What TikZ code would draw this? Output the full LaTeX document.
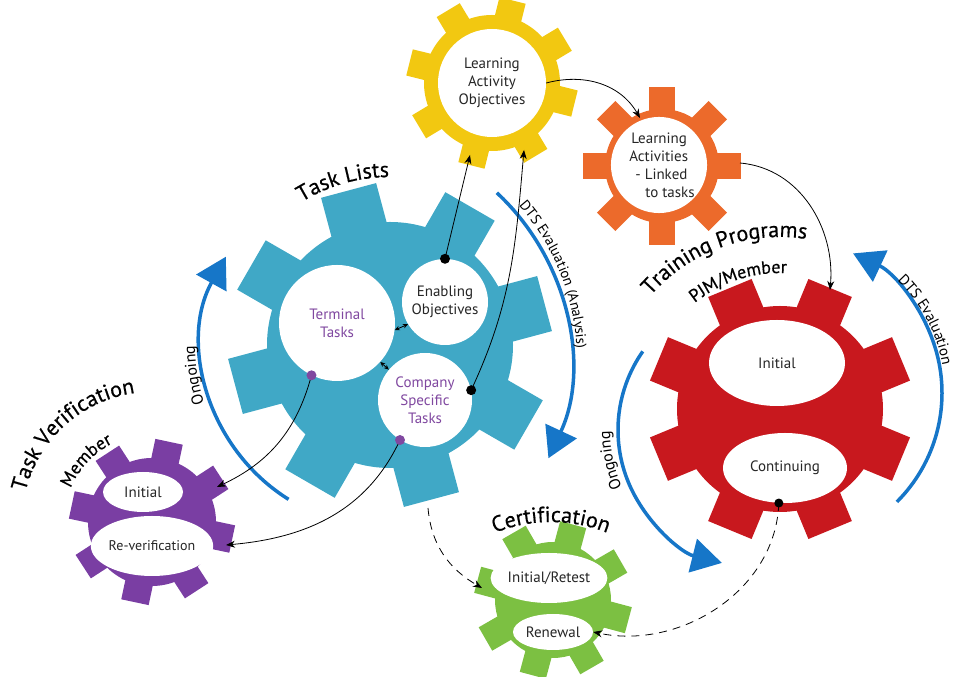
\documentclass[tikz,border=0pt]{standalone}
\usepackage{fontspec}
\setmainfont{PT Sans}
\newfontfamily\headfamily[FakeBold=0.5]{PT Sans}
\usepackage{tikz}
\usetikzlibrary{shapes.geometric, arrows.meta, decorations.text}

\definecolor{gearblue}{RGB}{64,168,198}
\definecolor{gearyellow}{RGB}{242,200,17}
\definecolor{gearorange}{RGB}{236,106,43}
\definecolor{gearred}{RGB}{200,24,30}
\definecolor{gearpurple}{RGB}{122,62,163}
\definecolor{geargreen}{RGB}{124,192,66}
\definecolor{cyclearrow}{RGB}{22,118,200}
\definecolor{taskpurple}{RGB}{128,72,160}

\newcommand{\titlefont}{\headfamily\fontsize{22}{25}\selectfont}
\newcommand{\subtitlefont}{\headfamily\fontsize{18}{21}\selectfont}
\newcommand{\cyclefont}{\fontsize{16}{19}\selectfont}
\newcommand{\dtsfont}{\fontsize{14.5}{17}\selectfont}

% centre, body radius, tip radius, tooth width, first tooth angle, colour
\newcommand{\drawgear}[6]{
    \fill [#6] #1 circle (#2);
    \foreach \k in {0, ..., 7}
    {
        \fill [#6, shift = {#1}, rotate = #5 + 45*\k] (#2 - 6, -#4/2) rectangle (#3, #4/2);
    }
}

\begin{document}
\begin{tikzpicture}[x = 1pt, y = 1pt,
    hole/.style = {circle, fill = white, inner sep = 0pt, align = center, font = \fontsize{15}{18}\selectfont, text = black!85},
    oval/.style = {ellipse, fill = white, inner sep = 0pt, align = center, font = \fontsize{15}{18}\selectfont, text = black!85},
    link/.style = {line width = 0.8pt, -{Stealth[length = 9pt, width = 7pt]}},
    twoway/.style = {line width = 0.8pt, {Stealth[length = 5pt, width = 4.5pt]}-{Stealth[length = 5pt, width = 4.5pt]}},
    loopline/.style = {cyclearrow, line width = 3.5pt, -{Triangle[length = 30pt, width = 34pt]}},
    curvetext/.style = {decorate, decoration = {text along path, text align = center, text = {#1}}}]

    \useasboundingbox (0, 0) rectangle (954, 677);

    \drawgear{(390, 332)}{123}{160}{57}{15}{gearblue}
    \drawgear{(492, 594)}{68}{85}{27}{31}{gearyellow}
    \drawgear{(662, 511)}{57}{79}{26}{0}{gearorange}
    \drawgear{(780, 268)}{103}{131}{47}{22.5}{gearred}
    \drawgear{(152, 155)}{64}{82}{28}{33}{gearpurple}
    \drawgear{(553, 77)}{58}{78}{27}{30}{geargreen}

    \node [hole, minimum size = 116pt, text = taskpurple] (term) at (337, 354) {Terminal\\Tasks};
    \node [hole, minimum size = 86pt] (enab) at (445, 375) {Enabling\\Objectives};
    \node [hole, minimum size = 94pt, text = taskpurple] (comp) at (425, 277) {Company\\Specific\\Tasks};
    \node [hole, minimum size = 108pt] (lao) at (492, 594) {Learning\\Activity\\Objectives};
    \node [hole, minimum size = 92pt, align = left] (la) at (659, 512) {\hspace{8pt}Learning\\\hspace{6pt}Activities\\\hspace{12pt}- Linked\\\hspace{22pt}to tasks};
    \node [oval, minimum width = 136pt, minimum height = 86pt] (tpinit) at (777, 314) {Initial};
    \node [oval, minimum width = 124pt, minimum height = 70pt] (tpcont) at (785, 209) {Continuing};
    \node [oval, minimum width = 80pt, minimum height = 40pt] (tvinit) at (143, 185) {Initial};
    \node [oval, minimum width = 96pt, minimum height = 60pt, font = \fontsize{14}{17}\selectfont] (tvre) at (152, 131) {Re-verification};
    \node [oval, minimum width = 100pt, minimum height = 50pt] (certinit) at (549, 99) {Initial/Retest};
    \node [oval, minimum width = 80pt, minimum height = 36pt] (certrenew) at (553, 45) {Renewal};

    \path [curvetext = {|\titlefont|Task Lists}] (390, 332) ++(150:168) arc [start angle = 150, end angle = 62, radius = 168];
    \path [curvetext = {|\titlefont|Task Verification}] (152, 155) ++(182:130) arc [start angle = 182, end angle = 82, radius = 130];
    \path [curvetext = {|\subtitlefont|Member}] (152, 155) ++(190:88) arc [start angle = 190, end angle = 84, radius = 88];
    \path [curvetext = {|\titlefont|Training Programs}] (780, 268) ++(160:172) arc [start angle = 160, end angle = 60, radius = 172];
    \path [curvetext = {|\subtitlefont|PJM/Member}] (780, 268) ++(158:136) arc [start angle = 158, end angle = 58, radius = 136];
    \path [curvetext = {|\titlefont|Certification}] (551, 5) ++(120:150) arc [start angle = 120, end angle = 60, radius = 150];

    \draw [loopline] (385, 332) ++(238:182) arc [start angle = 238, end angle = 151, radius = 182];
    \draw [loopline] (340, 316) ++(47:230) arc [start angle = 47, end angle = -25, radius = 230];
    \draw [loopline] (755, 247) ++(145:137) arc [start angle = 145, end angle = 256, radius = 137];
    \draw [loopline] (788, 284) ++(-45:154) arc [start angle = -45, end angle = 65, radius = 154];

    \path [curvetext = {|\cyclefont|Ongoing}] (385, 332) ++(219:190) arc [start angle = 219, end angle = 159, radius = 190];
    \path [curvetext = {|\dtsfont|DTS Evaluation (Analysis)}] (340, 316) ++(62:237) arc [start angle = 62, end angle = -18, radius = 237];
    \path [curvetext = {|\cyclefont|Ongoing}] (755, 247) ++(222:145) arc [start angle = 222, end angle = 162, radius = 145];
    \path [curvetext = {|\fontsize{15}{18}\selectfont|DTS Evaluation}] (788, 284) ++(68:157) arc [start angle = 68, end angle = -12, radius = 157];

    \coordinate (ytooth1) at (470, 522);
    \coordinate (ytooth2) at (524, 527);
    \coordinate (otoothin) at (640, 559);
    \coordinate (otoothout) at (740, 514);
    \coordinate (rtooth) at (830, 387);
    \coordinate (ptooth1) at (217, 190);
    \coordinate (ptooth2) at (226, 132);
    \coordinate (btooth) at (428, 169);
    \coordinate (gtooth) at (482, 89);

    \draw [link] (enab.north) -- (ytooth1);
    \draw [link] (comp.12) to [out = 65, in = -95] (ytooth2);
    \draw [link] (term.-116) to [out = -105, in = 25] (ptooth1);
    \draw [link] (comp.-122) to [out = -115, in = 5] (ptooth2);
    \draw [link, dash pattern = on 8pt off 6pt] (btooth) to [out = -85, in = 150] (gtooth);
    \draw [link] (lao.east) to [out = 15, in = 120] (otoothin);
    \draw [link] (otoothout) to [out = -5, in = 85] (rtooth);
    \draw [link, dash pattern = on 8pt off 6pt] (tpcont.-100) to [out = -92, in = -12] (certrenew.east);
    \draw [twoway] (term.-7) -- (enab.211);
    \draw [twoway] (term.-42) -- (comp.140);

    \fill (enab.north) circle (5);
    \fill (comp.12) circle (5);
    \fill [taskpurple] (term.-116) circle (5);
    \fill [taskpurple] (comp.-122) circle (5);
    \fill (tpcont.-100) circle (4.5);
\end{tikzpicture}
\end{document}
